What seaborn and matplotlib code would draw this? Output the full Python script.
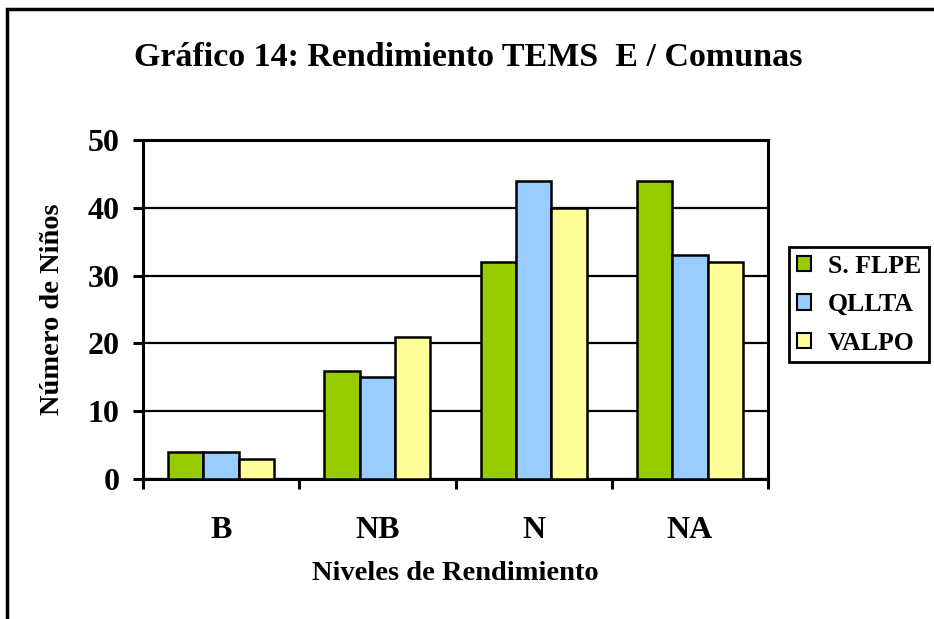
import matplotlib
matplotlib.use("Agg")
import matplotlib.pyplot as plt
import seaborn as sns
import pandas as pd
from matplotlib.patches import Rectangle

categories = ["B", "NB", "N", "NA"]
series_names = ["S. FLPE", "QLLTA", "VALPO"]
s_flpe = [4, 16, 32, 44]
qllta = [4, 15, 44, 33]
valpo = [3, 21, 40, 32]
colors = ["#99CC00", "#99CCFF", "#FFFF99"]

rows = []
for name, vals in zip(series_names, [s_flpe, qllta, valpo]):
    for c, v in zip(categories, vals):
        rows.append({"Nivel": c, "Serie": name, "Valor": v})
df = pd.DataFrame(rows)

sns.set_theme(style="white")
plt.rcParams["font.family"] = ["Liberation Serif", "DejaVu Serif"]
plt.rcParams["font.weight"] = "bold"
for k in ["text.color", "axes.labelcolor", "xtick.color", "ytick.color"]:
    plt.rcParams[k] = "black"

fig = plt.figure(figsize=(9.34, 6.19), dpi=100)
ax = fig.add_axes([143/934, 1-479/619, (768-143)/934, (479-140)/619])

sns.barplot(data=df, x="Nivel", y="Valor", hue="Serie", order=categories,
            hue_order=series_names, palette=colors, width=0.68,
            edgecolor="black", linewidth=1.8, saturation=1, ax=ax, zorder=3)

ax.set_ylim(0, 50)
ax.set_yticks([0, 10, 20, 30, 40, 50])
ax.set_xlim(-0.5, 3.5)
ax.yaxis.grid(True, color="black", linewidth=1.6)
ax.set_axisbelow(True)
for s in ["left", "right", "top", "bottom"]:
    ax.spines[s].set_visible(True)
    ax.spines[s].set_color("black")
    ax.spines[s].set_linewidth(2.2)

ax.tick_params(axis="y", direction="out", length=7, width=2.2, color="black",
               labelsize=23, pad=10, left=True)
ax.tick_params(axis="x", which="major", length=0, labelsize=23, pad=27)
ax.set_xticks([-0.5, 0.5, 1.5, 2.5, 3.5], minor=True)
ax.tick_params(axis="x", which="minor", direction="out", length=7, width=2.2,
               color="black", bottom=True)
for lbl in ax.get_xticklabels() + ax.get_yticklabels():
    lbl.set_fontweight("bold")

ax.set_xlabel("Niveles de Rendimiento", fontsize=20.5, fontweight="bold")
ax.set_ylabel("Número de Niños", fontsize=20.5, fontweight="bold")
ax.xaxis.set_label_coords(0.5, (479-574)/339)
ax.yaxis.set_label_coords((53-143)/625, 0.5)
ax.xaxis.label.set_va("center")
ax.yaxis.label.set_va("center")

leg = ax.legend(loc="upper left", bbox_to_anchor=(789/934, 1-247/619),
                bbox_transform=fig.transFigure, frameon=True, fancybox=False,
                prop={"family": "Liberation Serif", "weight": "bold", "size": 18.5},
                handlelength=0.55, handleheight=0.55, handletextpad=0.65,
                borderpad=0.3, labelspacing=0.6, borderaxespad=0)
leg.get_frame().set_edgecolor("black")
leg.get_frame().set_linewidth(2)
leg.get_frame().set_alpha(1)
for h in leg.legend_handles:
    h.set_linewidth(1.5)
    h.set_edgecolor("black")

fig.text(468/934, 1-57/619, "Gráfico 14: Rendimiento TEMS  E / Comunas",
         ha="center", va="center", fontsize=24.5, fontweight="bold")

fig.patches.append(Rectangle((7/934, -0.1), 1.2, 1 - 9/619 + 0.1,
                             transform=fig.transFigure, fill=False,
                             edgecolor="black", linewidth=2.5, zorder=10))

fig.savefig("out.png", dpi=100)
